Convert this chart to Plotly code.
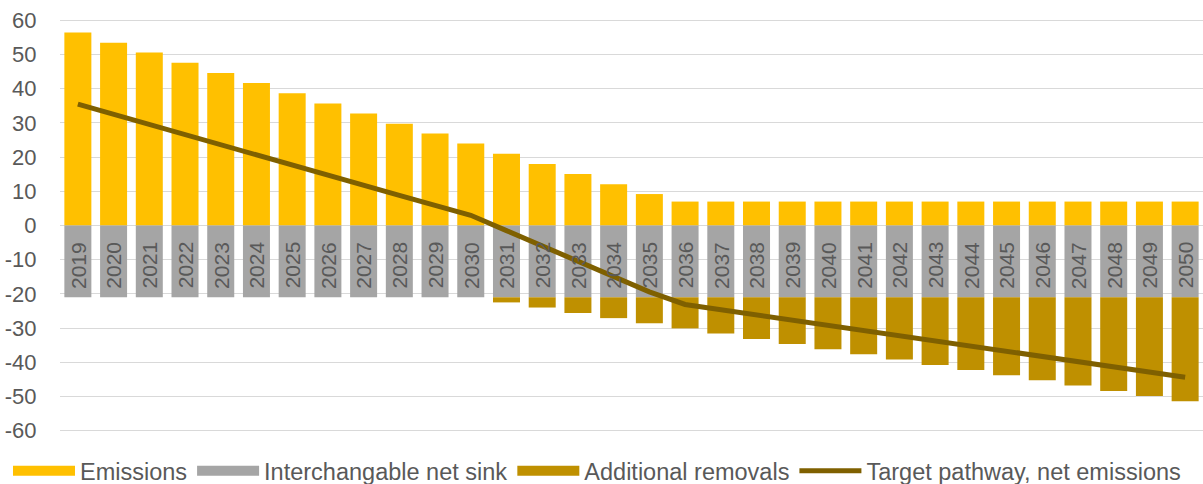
import plotly.graph_objects as go

years = list(range(2019, 2051))

emissions = [56.5, 53.5, 50.6, 47.6, 44.6, 41.7, 38.7, 35.7, 32.8, 29.8, 26.9, 24.0,
             21.0, 18.0, 15.1, 12.1, 9.2, 7.0, 7.0, 7.0, 7.0, 7.0, 7.0, 7.0,
             7.0, 7.0, 7.0, 7.0, 7.0, 7.0, 7.0, 7.0]

net_sink = [-21.0] * 32

additional = [0, 0, 0, 0, 0, 0, 0, 0, 0, 0, 0, 0,
              -1.5, -3.0, -4.6, -6.1, -7.6, -9.1, -10.6, -12.2, -13.7, -15.2, -16.7, -18.2,
              -19.8, -21.3, -22.8, -24.3, -25.8, -27.4, -28.9, -30.4]

target = [35.5, 32.5, 29.6, 26.6, 23.6, 20.7, 17.7, 14.7, 11.8, 8.8, 5.9, 3.0,
          -1.5, -6.0, -10.5, -15.0, -19.4, -23.1, -24.6, -26.2, -27.7, -29.2, -30.7, -32.2,
          -33.8, -35.3, -36.8, -38.3, -39.8, -41.4, -42.9, -44.4]

y_ticks = [60, 50, 40, 30, 20, 10, 0, -10, -20, -30, -40, -50, -60]

FONT = "Liberation Sans, Arial, sans-serif"
TXT = "#595959"
C_EMIS = "#FFC000"
C_SINK = "#A5A5A5"
C_ADD = "#BF9000"
C_LINE = "#7F6000"

fig = go.Figure()
fig.add_trace(go.Bar(x=years, y=emissions, name="Emissions", showlegend=False,
                     legendgroup="e", marker=dict(color=C_EMIS, line=dict(width=0))))
fig.add_trace(go.Bar(x=years, y=net_sink, name="Interchangable net sink", showlegend=False,
                     legendgroup="s", marker=dict(color=C_SINK, line=dict(width=0))))
fig.add_trace(go.Bar(x=years, y=additional, name="Additional removals", showlegend=False,
                     legendgroup="a", marker=dict(color=C_ADD, line=dict(width=0))))
fig.add_trace(go.Scatter(x=years, y=target, name="Target pathway, net emissions",
                         mode="lines", showlegend=False, legendgroup="t",
                         line=dict(color=C_LINE, width=5)))

# legend entries (wide swatches like the original)
for nm, col, grp, w in [("Emissions", C_EMIS, "e", 12),
                        ("Interchangable net sink", C_SINK, "s", 12),
                        ("Additional removals", C_ADD, "a", 12),
                        ("Target pathway, net emissions", C_LINE, "t", 5)]:
    fig.add_trace(go.Scatter(x=[None], y=[None], mode="lines", name=nm, legendgroup=grp,
                             line=dict(color=col, width=w), hoverinfo="skip"))

for yr in years:
    fig.add_annotation(x=yr, y=-11.6, text=str(yr), textangle=-90, showarrow=False,
                       xanchor="center", yanchor="middle",
                       font=dict(family=FONT, size=21, color=TXT))

fig.update_layout(
    width=1203, height=484,
    margin=dict(l=60, r=0, t=17, b=50, autoexpand=False),
    paper_bgcolor="white", plot_bgcolor="white",
    barmode="relative", bargap=0.244,
    font=dict(family=FONT, size=22, color=TXT),
    showlegend=True,
    legend=dict(orientation="h", xref="paper", yref="paper",
                x=-0.0455, xanchor="left", y=-0.036, yanchor="top",
                font=dict(family=FONT, size=23.5, color=TXT),
                itemwidth=62, traceorder="normal", bgcolor="rgba(0,0,0,0)"),
    xaxis=dict(type="linear", range=[2018.5, 2050.5], showticklabels=False, showgrid=False,
               zeroline=False, showline=False, ticks=""),
    yaxis=dict(range=[-61, 61], tickvals=y_ticks, ticktext=[str(v) for v in y_ticks],
               showgrid=True, gridcolor="#D9D9D9", gridwidth=1.3,
               zeroline=True, zerolinecolor="#D9D9D9", zerolinewidth=1.3,
               showline=False, ticks="outside", ticklen=18,
               tickcolor="rgba(0,0,0,0)",
               tickfont=dict(family=FONT, size=22, color=TXT)),
)

fig.write_html("out.html", config={"displayModeBar": False},
               post_script="document.body.style.margin='0';document.body.style.overflow='hidden';")
